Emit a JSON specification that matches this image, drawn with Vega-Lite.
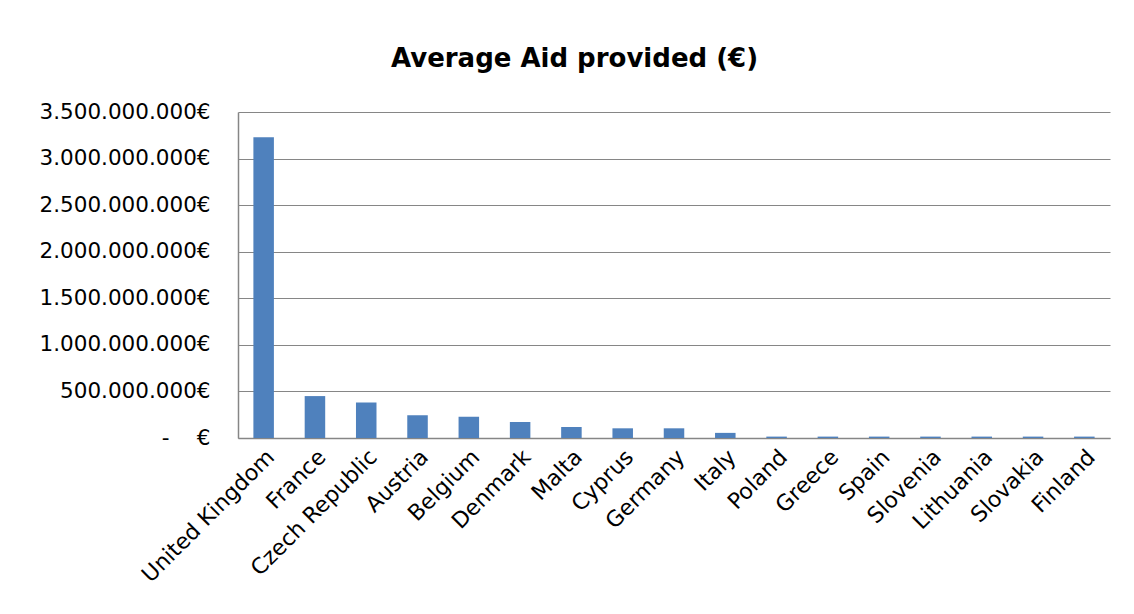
{
  "$schema": "https://vega.github.io/schema/vega-lite/v6.json",
  "width": 872,
  "height": 326,
  "autosize": {"type": "none"},
  "padding": {"left": 238, "top": 112, "right": 24, "bottom": 176},
  "background": "white",
  "title": {
    "text": "Average Aid provided (€)",
    "font": "DejaVu Sans",
    "fontSize": 26,
    "fontWeight": "bold",
    "color": "#000000",
    "anchor": "middle",
    "frame": "bounds",
    "offset": 29
  },
  "data": {
    "values": [
      {"country": "United Kingdom", "aid": 3230000000},
      {"country": "France", "aid": 450000000},
      {"country": "Czech Republic", "aid": 380000000},
      {"country": "Austria", "aid": 244000000},
      {"country": "Belgium", "aid": 229000000},
      {"country": "Denmark", "aid": 172000000},
      {"country": "Malta", "aid": 118000000},
      {"country": "Cyprus", "aid": 104000000},
      {"country": "Germany", "aid": 104000000},
      {"country": "Italy", "aid": 55000000},
      {"country": "Poland", "aid": 15000000},
      {"country": "Greece", "aid": 15000000},
      {"country": "Spain", "aid": 15000000},
      {"country": "Slovenia", "aid": 15000000},
      {"country": "Lithuania", "aid": 15000000},
      {"country": "Slovakia", "aid": 15000000},
      {"country": "Finland", "aid": 15000000}
    ]
  },
  "mark": {"type": "bar", "color": "#4F81BD"},
  "encoding": {
    "x": {
      "field": "country",
      "type": "nominal",
      "sort": null,
      "scale": {"paddingInner": 0.6, "paddingOuter": 0.3},
      "axis": {
        "title": null,
        "labelAngle": -45,
        "labelAlign": "right",
        "labelBaseline": "top",
        "labelFont": "DejaVu Sans",
        "labelFontSize": 22,
        "labelColor": "#000000",
        "labelPadding": 8,
        "labelOverlap": false,
        "labelBound": false,
        "ticks": false,
        "domainColor": "#868686",
        "domainWidth": 1.5,
        "grid": false
      }
    },
    "y": {
      "field": "aid",
      "type": "quantitative",
      "scale": {"domain": [0, 3500000000], "nice": false},
      "axis": {
        "title": null,
        "values": [0, 500000000, 1000000000, 1500000000, 2000000000, 2500000000, 3000000000, 3500000000],
        "labelExpr": "datum.value == 0 ? '-\u00a0\u00a0\u00a0\u00a0€' : replace(format(datum.value, ',d'), /,/g, '.') + '€'",
        "labelFont": "DejaVu Sans",
        "labelFontSize": 21.5,
        "labelColor": "#000000",
        "labelPadding": 28,
        "labelOverlap": false,
        "ticks": false,
        "domainColor": "#868686",
        "domainWidth": 1.5,
        "gridColor": "#868686",
        "gridWidth": 1
      }
    }
  },
  "config": {
    "view": {"stroke": null}
  }
}
